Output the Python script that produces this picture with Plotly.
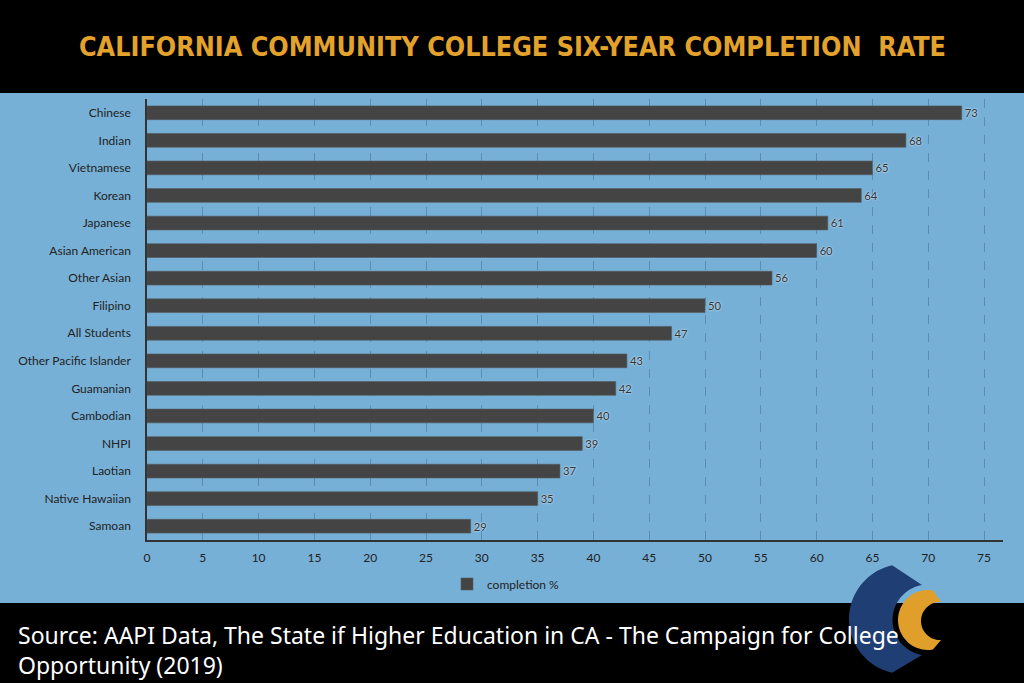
import numpy as np
import plotly.graph_objects as go

categories = ["Chinese", "Indian", "Vietnamese", "Korean", "Japanese", "Asian American",
              "Other Asian", "Filipino", "All Students", "Other Pacific Islander",
              "Guamanian", "Cambodian", "NHPI", "Laotian", "Native Hawaiian", "Samoan"]
completion = [73, 68, 65, 64, 61, 60, 56, 50, 47, 43, 42, 40, 39, 37, 35, 29]
x_ticks = list(range(0, 80, 5))

W, H = 1024, 683
ML, MR, MT, MB = 147, 21, 99, 143
PW, PH = W - ML - MR, H - MT - MB


def px(x):
    return (x - ML) / PW


def py(y):
    return 1 - (y - MT) / PH


def arc(cx, cy, r, t0, t1, n=40):
    t = np.radians(np.linspace(t0, t1, n))
    return list(zip(cx + r * np.cos(t), cy + r * np.sin(t)))


def path_from(points):
    s = "M " + " L ".join(f"{px(a):.5f},{py(b):.5f}" for a, b in points) + " Z"
    return s


BLUE_BG = "#77B0D7"
BAR = "#444444"

fig = go.Figure()
fig.add_trace(go.Bar(
    x=completion, y=categories, orientation="h", name="completion %",
    marker=dict(color=BAR, line=dict(width=0.6, color="#555a60")),
    width=0.5,
    text=[str(v) for v in completion], textposition="outside",
    textfont=dict(family="Lato", size=13, color="#333333",
                  shadow="0px 0px 2px #ffffff"),
    cliponaxis=False,
    showlegend=True,
))

shapes = []
# blue panel
shapes.append(dict(type="rect", xref="paper", yref="paper",
                   x0=px(0), x1=px(W), y0=py(603), y1=py(93),
                   fillcolor=BLUE_BG, line=dict(width=0), layer="below"))

# logo: blue arc
blue_pts = arc(904, 619, 55, 102.5, 257.5) + arc(928, 620, 35.5, 260.3, 99.7)
shapes.append(dict(type="path", xref="paper", yref="paper", path=path_from(blue_pts),
                   fillcolor="#1F3F74", line=dict(width=0), layer="above"))
# logo: orange C
orange_pts = arc(928, 620, 30, 279.5, 80.5) + arc(940, 621, 19, 87, 273)
shapes.append(dict(type="path", xref="paper", yref="paper", path=path_from(orange_pts),
                   fillcolor="#E09E2B", line=dict(width=0), layer="above"))

annotations = [
    dict(text="CALIFORNIA COMMUNITY COLLEGE SIX-YEAR COMPLETION  RATE",
         xref="paper", yref="paper", x=px(512), y=py(47), xanchor="center", yanchor="middle",
         showarrow=False,
         font=dict(family="DejaVu Sans Condensed, Liberation Sans Narrow, DejaVu Sans",
                   size=26.7, color="#E3A22B", weight="bold")),
    dict(text="Source: AAPI Data, The State if Higher Education in CA - The Campaign for College"
              "<br>Opportunity (2019)",
         xref="paper", yref="paper", x=px(16), y=py(650), xanchor="left", yanchor="middle",
         align="left", showarrow=False,
         font=dict(family="Noto Sans", size=23, color="#ffffff")),
]

fig.update_layout(
    width=W, height=H,
    margin=dict(l=ML, r=MR, t=MT, b=MB, pad=0),
    paper_bgcolor="#000000", plot_bgcolor="rgba(0,0,0,0)",
    shapes=shapes, annotations=annotations,
    bargap=0.5,
    font=dict(family="Lato", size=12, color="#222222"),
    legend=dict(orientation="h", x=px(506), xanchor="center", y=py(584), yanchor="middle",
                font=dict(family="Lato", size=12, color="#222222"),
                bgcolor="rgba(0,0,0,0)", itemwidth=30),
    xaxis=dict(range=[0, 76.7], tickvals=x_ticks, ticktext=[str(v) for v in x_ticks],
               showgrid=True, gridcolor="#5B8DB3", griddash="dash", gridwidth=1,
               zeroline=False, showline=True, linecolor="#333333", linewidth=1.5,
               ticks="outside", ticklen=6, tickcolor="rgba(0,0,0,0)",
               tickfont=dict(family="Lato", size=12, color="#222222"), fixedrange=True),
    yaxis=dict(autorange="reversed", showgrid=False, zeroline=False,
               showline=True, linecolor="#333333", linewidth=1.5,
               ticks="outside", ticklen=12, tickcolor="rgba(0,0,0,0)",
               tickfont=dict(family="Lato", size=12, color="#222222"), fixedrange=True),
)

fig.write_html("out.html", config={"displayModeBar": False},
               post_script="document.body.style.margin='0px';")
